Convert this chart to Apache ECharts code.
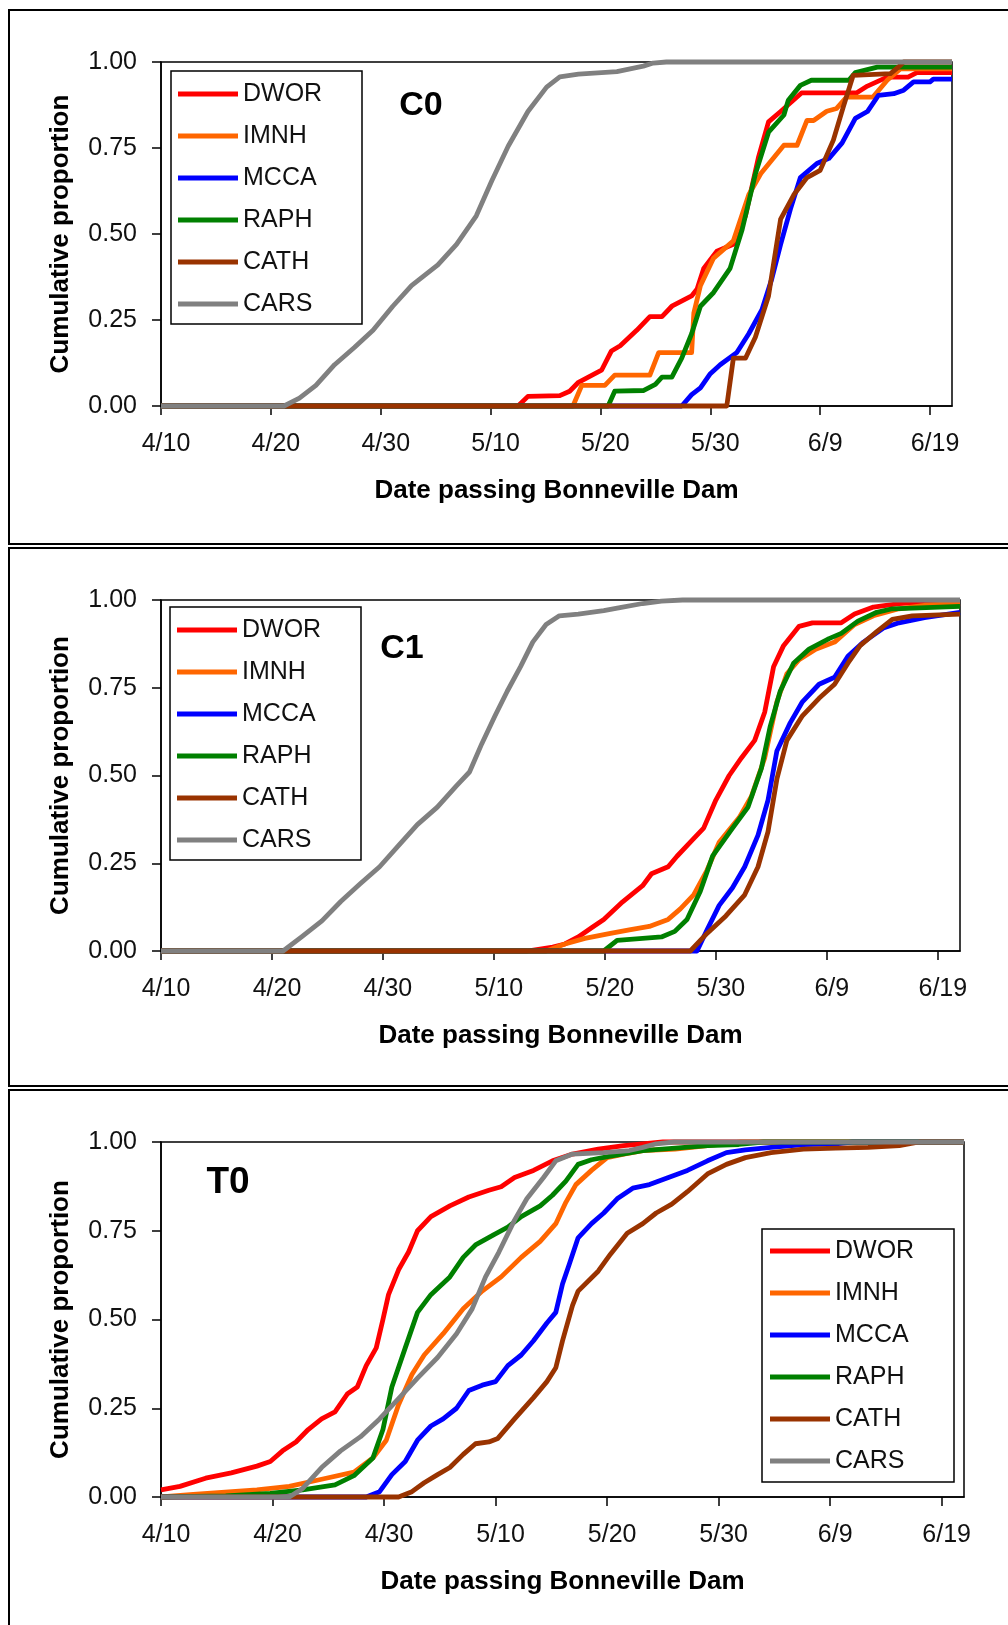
<!DOCTYPE html>
<html>
<head>
<meta charset="utf-8">
<script src="https://cdn.jsdelivr.net/npm/echarts@6/dist/echarts.min.js"></script>
<style>
  html, body { margin: 0; padding: 0; background: #fff; }
  #chart { width: 1008px; height: 1625px; }
</style>
</head>
<body>
<div id="chart"></div>
<script>
// x values: days after 4/10 ; y values: cumulative proportion
const DATE_LABELS = ['4/10', '4/20', '4/30', '5/10', '5/20', '5/30', '6/9', '6/19'];
const DATE_TICKS = [0, 10, 20, 30, 40, 50, 60, 70];
const X_MAX = 72;
const STOCKS = ['DWOR', 'IMNH', 'MCCA', 'RAPH', 'CATH', 'CARS'];
const PANEL_NAMES = ['C0', 'C1', 'T0'];

// ---- Panel C0 ----
const C0_DWOR = [[0,0],[32.5,0],[33.4,0.028],[36.3,0.03],[37.2,0.043],[38,0.069],[38.9,0.084],[40.1,0.104],[41,0.16],[41.8,0.175],[43.3,0.22],[44.5,0.26],[45.6,0.26],[46.5,0.29],[48.3,0.32],[48.8,0.34],[49.4,0.40],[50.6,0.45],[52.1,0.47],[53.2,0.553],[54.4,0.725],[55.3,0.826],[56.4,0.856],[58.3,0.91],[63.3,0.91],[64.3,0.93],[66.1,0.956],[68,0.956],[68.8,0.969],[72,0.969]];
const C0_IMNH = [[0,0],[37.5,0],[38.3,0.06],[40.4,0.06],[41.3,0.09],[44.5,0.09],[45.3,0.155],[48.3,0.155],[48.5,0.27],[49.1,0.35],[50.3,0.43],[52.1,0.48],[53.5,0.614],[54.6,0.676],[56.7,0.758],[57.9,0.758],[58.8,0.83],[59.4,0.83],[60.6,0.857],[61.5,0.865],[62.4,0.898],[64.8,0.898],[66.1,0.947],[67.3,0.98],[72,0.98]];
const C0_MCCA = [[0,0],[47.4,0],[48.3,0.033],[49.1,0.053],[50,0.094],[50.9,0.12],[52.4,0.155],[53.5,0.21],[54.7,0.28],[55.6,0.37],[56.4,0.47],[57.3,0.573],[58.2,0.664],[59.7,0.705],[60.8,0.72],[62,0.765],[63.2,0.836],[64.3,0.856],[65.3,0.903],[66.7,0.908],[67.6,0.918],[68.5,0.942],[70,0.942],[70.3,0.95],[72,0.95]];
const C0_RAPH = [[0,0],[40.7,0],[41.3,0.043],[43.9,0.045],[45,0.063],[45.6,0.084],[46.5,0.084],[47.4,0.139],[48.3,0.21],[49.1,0.29],[50.3,0.33],[51.8,0.40],[52.9,0.513],[54.1,0.674],[55.3,0.796],[56.7,0.846],[57.1,0.889],[58.2,0.932],[59.2,0.947],[62.6,0.947],[63.2,0.969],[65.2,0.985],[72,0.985]];
const C0_CATH = [[0,0],[51.5,0],[52.1,0.139],[53.2,0.139],[54.1,0.2],[55.3,0.32],[56.4,0.543],[57.6,0.614],[58.8,0.664],[60,0.685],[61.2,0.773],[62.1,0.869],[63,0.961],[66.4,0.966],[67.3,0.99],[67.6,1.0],[72,1.0]];
const C0_CARS = [[0,0],[11.2,0],[12.6,0.023],[14.1,0.06],[15.8,0.12],[17.6,0.17],[19.3,0.22],[21.1,0.29],[22.8,0.35],[25.2,0.41],[26.9,0.47],[28.7,0.553],[30.1,0.654],[31.6,0.755],[33.4,0.856],[35.1,0.927],[36.3,0.957],[38,0.965],[41.5,0.972],[43.9,0.988],[44.8,0.997],[46,1],[72,1]];

// ---- Panel C1 ----
const C1_DWOR = [[0,0],[33,0],[35.3,0.011],[36.4,0.02],[37.6,0.04],[38.8,0.066],[39.9,0.09],[41.6,0.14],[43.4,0.186],[44.2,0.22],[45.7,0.24],[46.5,0.27],[47.7,0.31],[48.9,0.35],[50,0.43],[51.2,0.50],[52.3,0.55],[53.5,0.60],[54.4,0.68],[55.2,0.81],[56.1,0.87],[57.5,0.925],[58.7,0.935],[61.3,0.935],[62.5,0.96],[64.2,0.98],[66.5,0.99],[68.8,0.994],[72,0.995]];
const C1_IMNH = [[0,0],[34.7,0],[36.4,0.02],[38.2,0.036],[40.5,0.05],[42.2,0.06],[44,0.07],[45.7,0.09],[46.8,0.12],[48,0.16],[49.2,0.23],[50.3,0.31],[52.1,0.38],[53.2,0.44],[54.4,0.55],[55.5,0.71],[56.4,0.79],[57.5,0.83],[59,0.86],[60.7,0.88],[62.5,0.93],[64.2,0.955],[66.5,0.975],[68.8,0.985],[72,0.99]];
const C1_MCCA = [[0,0],[48.3,0],[49.2,0.06],[50.3,0.13],[51.5,0.18],[52.6,0.24],[53.8,0.33],[54.7,0.43],[55.5,0.57],[56.7,0.65],[57.8,0.71],[59.3,0.76],[60.7,0.78],[61.9,0.84],[63.3,0.88],[65.1,0.92],[66.5,0.935],[68.8,0.95],[72,0.965]];
const C1_RAPH = [[0,0],[39.9,0],[41.1,0.03],[43.4,0.036],[45.1,0.04],[46.3,0.056],[47.4,0.09],[48.6,0.17],[49.7,0.27],[51.5,0.35],[52.9,0.41],[54.1,0.52],[54.9,0.64],[55.8,0.74],[57,0.82],[58.4,0.86],[60.2,0.89],[61.3,0.905],[62.8,0.94],[64.5,0.965],[65.9,0.975],[72,0.982]];
const C1_CATH = [[0,0],[47.7,0],[49.2,0.05],[50.9,0.10],[52.6,0.16],[53.8,0.24],[54.7,0.34],[55.5,0.49],[56.4,0.60],[57.8,0.67],[59.3,0.72],[60.7,0.76],[61.9,0.82],[63,0.87],[64.5,0.91],[65.9,0.945],[67.7,0.955],[72,0.96]];
const C1_CARS = [[0,0],[11,0],[12.7,0.041],[14.5,0.086],[16.2,0.141],[17.9,0.19],[19.7,0.24],[21.4,0.30],[23.1,0.36],[24.9,0.41],[26.6,0.47],[27.8,0.51],[28.9,0.59],[30.1,0.67],[31.2,0.74],[32.4,0.81],[33.5,0.88],[34.7,0.93],[35.9,0.955],[37.6,0.96],[39.9,0.97],[41.6,0.98],[43.4,0.99],[45.1,0.997],[47,1],[72,1]];

// ---- Panel T0 ----
const T0_DWOR = [[0,0.02],[1.7,0.03],[4,0.053],[6.3,0.068],[8.6,0.087],[9.8,0.10],[10.9,0.13],[12.1,0.155],[13.2,0.19],[14.4,0.22],[15.6,0.24],[16.7,0.29],[17.6,0.31],[18.4,0.37],[19.3,0.42],[19.9,0.50],[20.4,0.57],[21.3,0.64],[22.2,0.69],[23,0.75],[24.2,0.79],[25.9,0.82],[27.6,0.845],[29.4,0.864],[30.5,0.874],[31.7,0.90],[33.4,0.92],[35.1,0.947],[36.9,0.966],[39.2,0.98],[41.5,0.99],[43.2,0.995],[45,1],[72,1]];
const T0_IMNH = [[0,0],[2.9,0.007],[8.6,0.02],[11.5,0.03],[14.4,0.05],[17.3,0.07],[19,0.11],[20.2,0.16],[21.3,0.26],[22.5,0.345],[23.6,0.40],[25.3,0.46],[27.1,0.53],[28.8,0.58],[30.5,0.62],[32.3,0.675],[34,0.72],[35.4,0.77],[36.3,0.83],[37.2,0.88],[38.6,0.92],[40,0.956],[41.5,0.966],[43.2,0.976],[46.1,0.98],[49,0.99],[52,1],[72,1]];
const T0_MCCA = [[0,0],[18.4,0],[19.6,0.015],[20.7,0.063],[21.9,0.10],[23,0.16],[24.2,0.20],[25.3,0.22],[26.5,0.25],[27.6,0.30],[28.8,0.315],[30,0.325],[31.1,0.37],[32.3,0.40],[33.4,0.44],[34.6,0.49],[35.4,0.52],[36,0.60],[36.6,0.655],[37.4,0.73],[38.6,0.77],[39.7,0.80],[40.9,0.84],[42.3,0.87],[43.8,0.88],[45.5,0.90],[47.2,0.92],[49,0.947],[50.7,0.97],[52.4,0.978],[54.7,0.985],[57.6,0.993],[60.5,0.995],[62,1],[72,1]];
const T0_RAPH = [[0,0],[5.8,0.003],[9.8,0.01],[12.7,0.02],[15.6,0.034],[17.3,0.06],[19,0.11],[19.9,0.19],[20.7,0.31],[21.9,0.42],[23,0.52],[24.2,0.57],[25.9,0.62],[27.1,0.675],[28.2,0.71],[29.9,0.74],[31.1,0.76],[32.3,0.79],[34,0.82],[35.1,0.85],[36.3,0.89],[37.4,0.937],[38.6,0.95],[40.3,0.96],[43.2,0.976],[46.1,0.983],[49,0.99],[51.8,0.993],[54,1],[72,1]];
const T0_CATH = [[0,0],[21.3,0],[22.5,0.015],[23.6,0.04],[24.8,0.063],[25.9,0.083],[27.1,0.12],[28.2,0.15],[29.4,0.155],[30.2,0.165],[31.7,0.22],[33.4,0.28],[34.6,0.325],[35.4,0.364],[36,0.44],[36.9,0.54],[37.4,0.58],[39.2,0.636],[40.3,0.684],[41.8,0.743],[43.2,0.77],[44.4,0.80],[45.8,0.825],[47.2,0.86],[49,0.91],[50.7,0.937],[52.4,0.956],[54.7,0.97],[57.6,0.98],[60.5,0.983],[63.4,0.985],[66.2,0.99],[68,1],[72,1]];
const T0_CARS = [[0,0],[11.5,0],[12.7,0.024],[14.4,0.083],[16.1,0.13],[17.9,0.17],[19.6,0.22],[21.3,0.277],[23,0.335],[24.8,0.393],[26.5,0.46],[27.9,0.53],[29.1,0.62],[30.3,0.69],[31.7,0.78],[32.8,0.84],[34.3,0.90],[35.4,0.947],[36.9,0.966],[39.7,0.97],[42,0.976],[43.2,0.985],[44.4,0.995],[46,1],[72,1]];

const PANEL_DATA = [
  [C0_DWOR, C0_IMNH, C0_MCCA, C0_RAPH, C0_CATH, C0_CARS],
  [C1_DWOR, C1_IMNH, C1_MCCA, C1_RAPH, C1_CATH, C1_CARS],
  [T0_DWOR, T0_IMNH, T0_MCCA, T0_RAPH, T0_CATH, T0_CARS]
];

// ---- styling / layout ----
const COLORS = ['#FF0000', '#FF6600', '#0000FF', '#008000', '#993300', '#808080'];
const FONT = 'Arial, "Liberation Sans", Helvetica, sans-serif';
const GRIDS = [
  { left: 161, top: 62, width: 791, height: 344 },
  { left: 161, top: 600, width: 799, height: 351 },
  { left: 161, top: 1142, width: 803, height: 355 }
];
const LEGENDS = [
  { left: 171, top: 71, padding: [10, 10, 7, 7] },
  { left: 170, top: 607, padding: [10, 10, 7, 7] },
  { left: 762, top: 1229, padding: [9, 10, 8, 8] }
];
const PANEL_BOXES = [
  { y: 10, h: 534 },
  { y: 548, h: 538 },
  { y: 1090, h: 545 }
];
const PANEL_LABEL_POS = [
  { x: 421, y: 106, size: 34 },
  { x: 402, y: 649, size: 34 },
  { x: 228, y: 1183, size: 37 }
];

const chart = echarts.init(document.getElementById('chart'), null, { renderer: 'canvas' });

const grid = GRIDS.map(g => Object.assign({
  show: true, borderColor: '#000', borderWidth: 1.5, backgroundColor: 'transparent'
}, g));

const xAxis = GRIDS.map((g, i) => ({
  type: 'value', gridIndex: i, min: 0, max: X_MAX, interval: 10,
  axisLine: { show: true, onZero: false, lineStyle: { color: '#000', width: 1.5 } },
  axisTick: { show: true, inside: false, length: 9, customValues: DATE_TICKS, lineStyle: { color: '#000', width: 1.5 } },
  axisLabel: {
    customValues: DATE_TICKS,
    formatter: v => DATE_LABELS[Math.round(v / 10)] || '',
    margin: 26, fontSize: 25, color: '#111', fontFamily: FONT, padding: [0, 0, 0, 10]
  },
  splitLine: { show: false },
  name: 'Date passing Bonneville Dam', nameLocation: 'middle', nameGap: 72,
  nameTextStyle: { fontWeight: 'bold', fontSize: 26, color: '#000', fontFamily: FONT }
}));

const yAxis = GRIDS.map((g, i) => ({
  type: 'value', gridIndex: i, min: 0, max: 1, interval: 0.25,
  axisLine: { show: true, onZero: false, lineStyle: { color: '#000', width: 1.5 } },
  axisTick: { show: true, inside: false, length: 9, lineStyle: { color: '#000', width: 1.5 } },
  axisLabel: { formatter: v => v.toFixed(2), margin: 24, fontSize: 25, color: '#111', fontFamily: FONT },
  splitLine: { show: false },
  name: 'Cumulative proportion', nameLocation: 'middle', nameGap: 87, nameRotate: 90,
  nameTextStyle: { fontWeight: 'bold', fontSize: 26, color: '#000', fontFamily: FONT }
}));

const legend = LEGENDS.map(l => ({
  orient: 'vertical', left: l.left, top: l.top, padding: l.padding,
  data: STOCKS, selectedMode: false,
  icon: 'rect', itemWidth: 60, itemHeight: 5, itemGap: 16,
  borderColor: '#000', borderWidth: 1.5, backgroundColor: '#fff',
  textStyle: { fontSize: 25, lineHeight: 26, width: 109, color: '#111', fontFamily: FONT }
}));

const series = [];
PANEL_DATA.forEach((panel, i) => {
  panel.forEach((data, k) => {
    series.push({
      type: 'line', name: STOCKS[k], xAxisIndex: i, yAxisIndex: i,
      data: data, color: COLORS[k], symbol: 'none', showSymbol: false,
      lineStyle: { width: 4.8, color: COLORS[k], join: 'round' },
      clip: false, animation: false, z: 2 + k
    });
  });
});

const graphic = [];
PANEL_BOXES.forEach(b => {
  graphic.push({
    type: 'rect', z: 0, silent: true,
    shape: { x: 9, y: b.y, width: 1020, height: b.h },
    style: { fill: 'none', stroke: '#000', lineWidth: 2 }
  });
});
PANEL_NAMES.forEach((t, i) => {
  const p = PANEL_LABEL_POS[i];
  graphic.push({
    type: 'text', z: 10, silent: true, x: p.x, y: p.y,
    style: { text: t, font: 'bold ' + p.size + 'px ' + FONT, fill: '#000', textAlign: 'center', textVerticalAlign: 'middle' }
  });
});

chart.setOption({
  animation: false,
  backgroundColor: '#fff',
  textStyle: { fontFamily: FONT },
  grid, xAxis, yAxis, legend, series, graphic
});
</script>
</body>
</html>
